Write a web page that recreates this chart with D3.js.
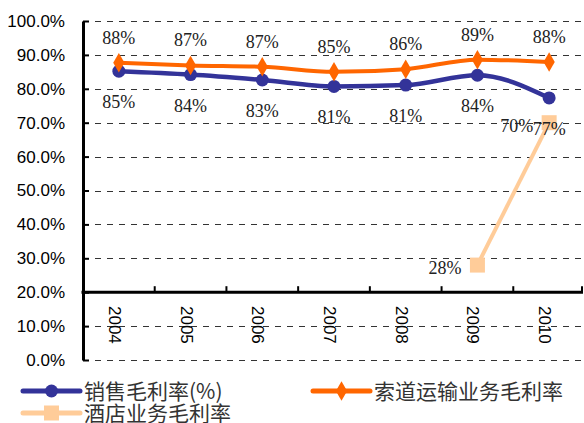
<!DOCTYPE html>
<html>
<head>
<meta charset="utf-8">
<script src="https://cdn.jsdelivr.net/npm/d3@7/dist/d3.min.js"></script>
<style>
  html, body { margin: 0; padding: 0; background: #fff; }
  svg { display: block; }
</style>
</head>
<body>
<svg id="chart" width="584" height="423"></svg>
<script>
// Years on the category axis
const years = ["2004", "2005", "2006", "2007", "2008", "2009", "2010"];
// Gross margin series (fractions)
const salesMargin = [0.852, 0.842, 0.826, 0.807, 0.811, 0.840, 0.773];
const cablewayMargin = [0.877, 0.869, 0.865, 0.850, 0.858, 0.886, 0.879];
const hotelMargin = [null, null, null, null, null, 0.280, 0.700];
// Y tick values
const yTicks = [0, 0.1, 0.2, 0.3, 0.4, 0.5, 0.6, 0.7, 0.8, 0.9, 1.0];

const seriesNames = ["销售毛利率(%)", "索道运输业务毛利率", "酒店业务毛利率"];
const colors = ["#333399", "#FF6600", "#FFCC99"];

const svg = d3.select("#chart");
const plotLeft = 83, plotRight = 585, plotTop = 21, plotBottom = 360;

const x = d3.scaleBand().domain(years).range([plotLeft, plotRight]);
const y = d3.scaleLinear().domain([0, 1]).range([plotBottom, plotTop]);
const pct0 = d3.format(".0%");
const pct1 = d3.format(".1%");

// Dashed horizontal gridlines
svg.append("g")
  .selectAll("line")
  .data(yTicks)
  .join("line")
  .attr("x1", plotLeft).attr("x2", plotRight - 2)
  .attr("y1", d => Math.round(y(d)) + 0.5).attr("y2", d => Math.round(y(d)) + 0.5)
  .attr("stroke", "#333")
  .attr("stroke-width", 1)
  .attr("stroke-dasharray", "6,6");

// Y axis with inward ticks
const yAxis = svg.append("g")
  .attr("transform", `translate(${plotLeft},0)`)
  .call(d3.axisRight(y).tickValues(yTicks).tickFormat(pct1).tickSize(6).tickSizeOuter(0));
yAxis.select(".domain").attr("stroke", "#000").attr("stroke-width", 3);
yAxis.selectAll(".tick line").attr("stroke", "#000").attr("stroke-width", 2);
yAxis.selectAll(".tick text")
  .attr("x", -18)
  .attr("text-anchor", "end")
  .attr("fill", "#000")
  .style("font-family", "Liberation Sans, Arial, sans-serif")
  .style("font-size", "17px");

// Category axis at the 20% level, ticks pointing up
const xAxisY = y(0.2);
svg.append("line")
  .attr("x1", plotLeft - 1.5).attr("x2", plotRight - 2)
  .attr("y1", xAxisY).attr("y2", xAxisY)
  .attr("stroke", "#000").attr("stroke-width", 3);
const boundaries = years.map(d => x(d)).concat([x(years[years.length - 1]) + x.bandwidth()]);
svg.append("g")
  .selectAll("line")
  .data(boundaries.slice(1))
  .join("line")
  .attr("x1", d => Math.min(d, plotRight - 3)).attr("x2", d => Math.min(d, plotRight - 3))
  .attr("y1", xAxisY).attr("y2", xAxisY - 6)
  .attr("stroke", "#000").attr("stroke-width", 2);

// Rotated year labels
svg.append("g")
  .selectAll("text")
  .data(years)
  .join("text")
  .attr("transform", d => `translate(${x(d) + x.bandwidth() / 2 - 4},306) rotate(90)`)
  .attr("dy", "0.35em")
  .attr("text-anchor", "start")
  .style("font-family", "Liberation Sans, Arial, sans-serif")
  .style("font-size", "17px")
  .attr("fill", "#000")
  .text(d => d);

const cx = (d, i) => x(years[i]) + x.bandwidth() / 2;
const line = d3.line()
  .defined(d => d != null)
  .x((d, i) => cx(d, i))
  .y(d => y(d))
  .curve(d3.curveMonotoneX);

// Hotel series (only last two years)
svg.append("path")
  .datum(hotelMargin)
  .attr("fill", "none")
  .attr("stroke", colors[2])
  .attr("stroke-width", 4)
  .attr("d", d3.line().defined(d => d != null).x((d, i) => cx(d, i)).y(d => y(d)));
svg.append("g")
  .selectAll("rect")
  .data(hotelMargin.map((v, i) => ({ v, i })).filter(d => d.v != null))
  .join("rect")
  .attr("x", d => cx(null, d.i) - 7.5).attr("y", d => y(d.v) - 7.5)
  .attr("width", 15).attr("height", 15)
  .attr("fill", colors[2]);

// Sales margin
svg.append("path")
  .datum(salesMargin)
  .attr("fill", "none")
  .attr("stroke", colors[0])
  .attr("stroke-width", 4.5)
  .attr("d", line);
svg.append("g")
  .selectAll("circle")
  .data(salesMargin)
  .join("circle")
  .attr("cx", cx).attr("cy", d => y(d))
  .attr("r", 6.5)
  .attr("fill", colors[0]);

// Cableway margin
svg.append("path")
  .datum(cablewayMargin)
  .attr("fill", "none")
  .attr("stroke", colors[1])
  .attr("stroke-width", 4)
  .attr("d", line);
const diamond = d3.symbol().type(d3.symbolDiamond).size(110);
svg.append("g")
  .selectAll("path")
  .data(cablewayMargin)
  .join("path")
  .attr("transform", (d, i) => `translate(${cx(d, i)},${y(d)})`)
  .attr("d", diamond)
  .attr("fill", colors[1]);

// Value labels
const labelStyle = sel => sel
  .style("font-family", "Liberation Serif, Times New Roman, serif")
  .style("font-size", "18px")
  .attr("fill", "#222");

svg.append("g")
  .selectAll("text")
  .data(cablewayMargin)
  .join("text")
  .attr("x", cx).attr("y", d => y(d) - 19)
  .attr("text-anchor", "middle")
  .call(labelStyle)
  .text(d => pct0(d));

svg.append("g")
  .selectAll("text")
  .data(salesMargin)
  .join("text")
  .attr("x", cx).attr("y", d => y(d) + 37)
  .attr("text-anchor", "middle")
  .call(labelStyle)
  .text(d => pct0(d));

svg.append("g")
  .selectAll("text")
  .data(hotelMargin.map((v, i) => ({ v, i })).filter(d => d.v != null))
  .join("text")
  .attr("x", d => cx(null, d.i) - 16).attr("y", d => y(d.v) + 9)
  .attr("text-anchor", "end")
  .call(labelStyle)
  .text(d => pct0(d.v));

// Legend
const legend = [
  { name: seriesNames[0], color: colors[0], x: 23, y: 391, mark: "circle" },
  { name: seriesNames[1], color: colors[1], x: 313, y: 391, mark: "diamond" },
  { name: seriesNames[2], color: colors[2], x: 23, y: 413, mark: "square" }
];
const lg = svg.append("g").selectAll("g").data(legend).join("g")
  .attr("transform", d => `translate(${d.x},${d.y})`);
lg.append("line")
  .attr("x1", 0).attr("x2", 57)
  .attr("stroke", d => d.color)
  .attr("stroke-width", 5)
  .attr("stroke-linecap", "round");
lg.each(function (d) {
  const g = d3.select(this);
  if (d.mark === "circle") {
    g.append("circle").attr("cx", 28.5).attr("r", 6.5).attr("fill", d.color);
  } else if (d.mark === "diamond") {
    g.append("path").attr("transform", "translate(28.5,0)").attr("d", diamond).attr("fill", d.color);
  } else {
    g.append("rect").attr("x", 21).attr("y", -7.5).attr("width", 15).attr("height", 15).attr("fill", d.color);
  }
});
lg.append("text")
  .attr("x", 61)
  .attr("dy", "0.36em")
  .style("font-family", "Noto Sans CJK SC, sans-serif")
  .style("font-size", "21px")
  .attr("fill", "#333")
  .text(d => d.name);
</script>
</body>
</html>
